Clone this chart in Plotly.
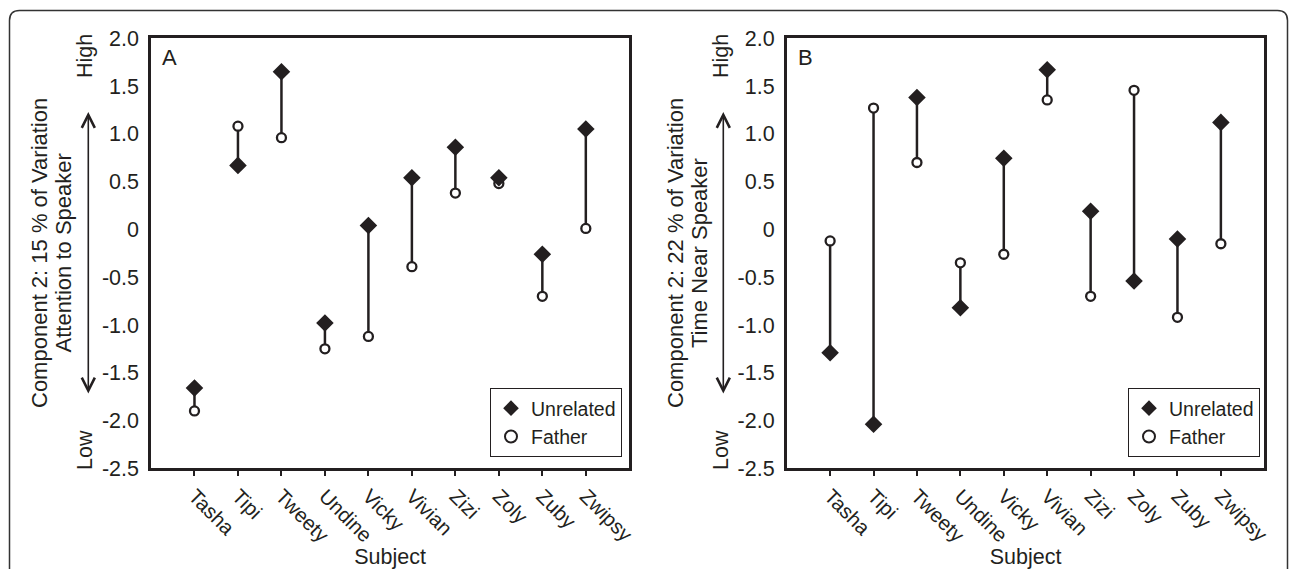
import plotly.graph_objects as go

# ---------------- data ----------------
subjects = ["Tasha", "Tipi", "Tweety", "Undine", "Vicky", "Vivian", "Zizi", "Zoly", "Zuby", "Zwipsy"]
subject_pos = [1, 2, 3, 4, 5, 6, 7, 8, 9, 10]

a_unrelated = [-1.66, 0.67, 1.65, -0.98, 0.04, 0.54, 0.86, 0.54, -0.26, 1.05]
a_father = [-1.90, 1.08, 0.96, -1.25, -1.12, -0.39, 0.38, 0.48, -0.70, 0.01]

b_unrelated = [-1.29, -2.04, 1.38, -0.82, 0.745, 1.67, 0.19, -0.54, -0.10, 1.12]
b_father = [-0.12, 1.27, 0.70, -0.35, -0.26, 1.355, -0.70, 1.456, -0.92, -0.15]

y_tickvals = [2.0, 1.5, 1.0, 0.5, 0.0, -0.5, -1.0, -1.5, -2.0, -2.5]
y_ticktext = ["2.0", "1.5", "1.0", "0.5", "0", "-0.5", "-1.0", "-1.5", "-2.0", "-2.5"]

titles_a = ["Component 2: 15 % of Variation", "Attention to Speaker"]
titles_b = ["Component 2: 22 % of Variation", "Time Near Speaker"]

# ---------------- styling ----------------
W, H = 1290, 569
INK = "#231f20"
FONT = "Liberation Sans, Arial, Helvetica, sans-serif"
FS = 21.5


def px_x(x):
    return x / W


def px_y(y):
    return 1 - y / H


dom_y = [px_y(468.3), px_y(38.3)]
dom_xa = [px_x(151), px_x(629.3)]
dom_xb = [px_x(786.7), px_x(1264.3)]

fig = go.Figure()


def add_panel(xaxis, yaxis, unrel, fath, legend):
    sx, sy = [], []
    for p, u, f in zip(subject_pos, unrel, fath):
        sx += [p, p, None]
        sy += [u, f, None]
    fig.add_trace(go.Scatter(x=sx, y=sy, mode="lines", line=dict(color=INK, width=2.5),
                             xaxis=xaxis, yaxis=yaxis, showlegend=False, hoverinfo="skip"))
    fig.add_trace(go.Scatter(x=subject_pos, y=fath, mode="markers", name="Father",
                             marker=dict(symbol="circle", size=9, color="white",
                                         line=dict(color=INK, width=2.3)),
                             xaxis=xaxis, yaxis=yaxis, legend=legend, legendrank=2))
    fig.add_trace(go.Scatter(x=subject_pos, y=unrel, mode="markers", name="Unrelated",
                             marker=dict(symbol="diamond", size=13.5, color=INK,
                                         line=dict(color=INK, width=0)),
                             xaxis=xaxis, yaxis=yaxis, legend=legend, legendrank=1))


add_panel("x", "y", a_unrelated, a_father, "legend")
add_panel("x2", "y2", b_unrelated, b_father, "legend2")

xax = dict(range=[0, 11], tickvals=subject_pos, ticktext=subjects, tickangle=45,
           ticks="outside", ticklen=5, tickwidth=2, tickcolor=INK,
           showline=True, linewidth=2.5, linecolor=INK, mirror=True,
           showgrid=False, zeroline=False, automargin=False,
           tickfont=dict(family=FONT, size=20.5, color=INK),
           title=dict(text="Subject", font=dict(family=FONT, size=FS, color=INK), standoff=6))
yax = dict(range=[-2.5, 2.0], tickvals=y_tickvals, ticktext=y_ticktext,
           ticks="", showline=True, linewidth=2.5, linecolor=INK, mirror=True,
           showgrid=False, zeroline=False, ticklabelstandoff=5, automargin=False,
           tickfont=dict(family=FONT, size=FS, color=INK))

leg = dict(bgcolor="white", bordercolor=INK, borderwidth=1,
           font=dict(family=FONT, size=19.5, color=INK),
           xanchor="right", yanchor="bottom", itemsizing="constant",
           tracegroupgap=0, itemwidth=30)

fig.update_layout(
    width=W, height=H, margin=dict(l=0, r=0, t=0, b=0, autoexpand=False),
    paper_bgcolor="white", plot_bgcolor="white",
    xaxis=dict(domain=dom_xa, anchor="y", **xax),
    yaxis=dict(domain=dom_y, anchor="x", **yax),
    xaxis2=dict(domain=dom_xb, anchor="y2", **xax),
    yaxis2=dict(domain=dom_y, anchor="x2", **yax),
    legend=dict(x=px_x(622), y=px_y(457), **leg),
    legend2=dict(x=px_x(1260), y=px_y(457), **leg),
    showlegend=True,
)

# panel letters
for lx, letter in [(160, "A"), (796, "B")]:
    fig.add_annotation(x=px_x(lx), y=px_y(57.5), xref="paper", yref="paper", text=letter,
                       showarrow=False, xanchor="left", yanchor="middle",
                       font=dict(family=FONT, size=22, color=INK))

# y axis titles, High / Low, double arrow
for (c1, c2, hx, ax_, lines) in [(39, 62.5, 85, 88.3, titles_a), (675, 699, 721, 723.3, titles_b)]:
    for cx, line in zip((c1, c2), lines):
        fig.add_annotation(x=px_x(cx), y=px_y(253), xref="paper", yref="paper",
                           text=line, textangle=-90, showarrow=False,
                           xanchor="center", yanchor="middle",
                           font=dict(family=FONT, size=22, color=INK))
    fig.add_annotation(x=px_x(hx), y=px_y(56), xref="paper", yref="paper", text="High",
                       textangle=-90, showarrow=False, xanchor="center", yanchor="middle",
                       font=dict(family=FONT, size=FS, color=INK))
    fig.add_annotation(x=px_x(hx), y=px_y(450), xref="paper", yref="paper", text="Low",
                       textangle=-90, showarrow=False, xanchor="center", yanchor="middle",
                       font=dict(family=FONT, size=FS, color=INK))
    fig.add_annotation(x=px_x(ax_), y=px_y(112), xref="paper", yref="paper", text="",
                       showarrow=True, ax=0, ay=283, arrowside="end+start",
                       arrowhead=5, startarrowhead=5, arrowsize=1.6, startarrowsize=1.6,
                       arrowwidth=1.6, arrowcolor=INK)

# outer rounded frame
L, T, R, B, r = 9.5, 10.5, 1287.5, 575, 10
path = (f"M {px_x(L)},{px_y(B)} L {px_x(L)},{px_y(T + r)} "
        f"Q {px_x(L)},{px_y(T)} {px_x(L + r)},{px_y(T)} "
        f"L {px_x(R - r)},{px_y(T)} Q {px_x(R)},{px_y(T)} {px_x(R)},{px_y(T + r)} "
        f"L {px_x(R)},{px_y(B)}")
fig.add_shape(type="path", path=path, xref="paper", yref="paper",
              line=dict(color="#333333", width=1.5))

fig.write_html("out.html", config={"displayModeBar": False},
               post_script="document.body.style.margin='0';document.body.style.overflow='hidden';")
